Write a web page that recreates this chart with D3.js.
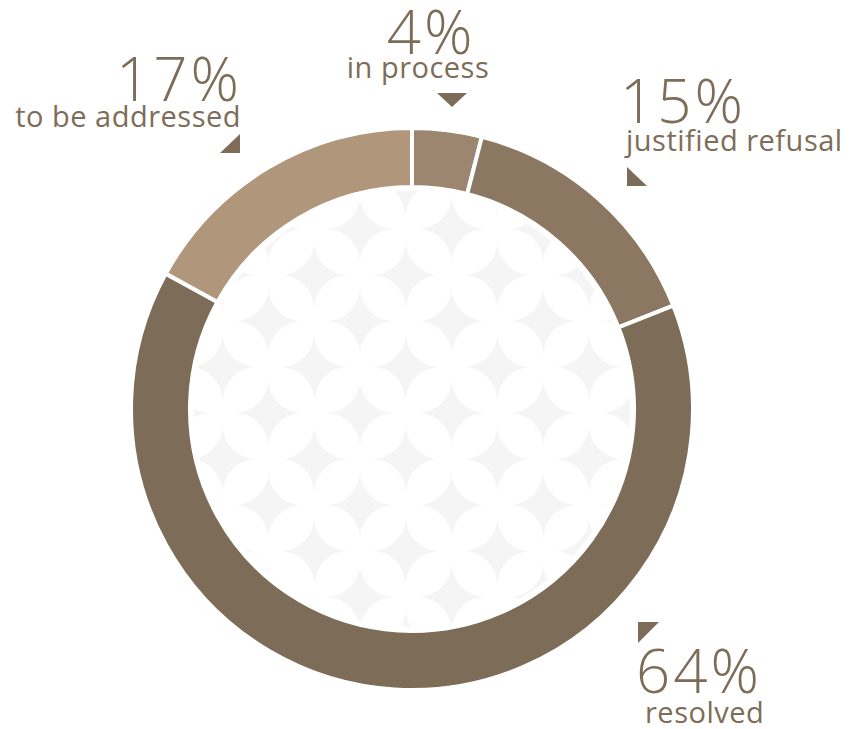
<!DOCTYPE html>
<html>
<head>
<meta charset="utf-8">
<script src="https://cdn.jsdelivr.net/npm/d3@7"></script>
<style>
  body { margin: 0; background: #fff; }
  svg { display: block; }
  .pct { font-family: 'Open Sans', sans-serif; font-weight: 300; font-size: 60px; letter-spacing: 3px; fill: #7d6d58; }
  .lbl { font-family: 'Open Sans', sans-serif; font-weight: 400; font-size: 29px; letter-spacing: 0.5px; fill: #7d6d58; }
</style>
</head>
<body>
<div id="chart"></div>
<script>
// data
let categories = ["in process", "justified refusal", "resolved", "to be addressed"];
let values = [4, 15, 64, 17];

// one colour per slice
let colors = ["#9c8670", "#8b7762", "#7d6d58", "#b0967b"];

// where each label sits: text anchor, x, baseline of the percent, baseline of the label, and the little pointer
let labelLayout = [
  {anchor: "middle", x: 431, xl: 418, yp: 54, yl: 78, tri: [[437, 93], [467, 93], [452, 107]]},
  {anchor: "start", x: 620, xl: 626, yp: 123, yl: 151, tri: [[627, 167], [627, 186], [647, 186]]},
  {anchor: "start", x: 636, xl: 645, yp: 693, yl: 723, tri: [[638, 622], [659, 622], [638, 643]]},
  {anchor: "end", x: 242, xl: 241, yp: 101, yl: 127, tri: [[240, 134], [240, 153], [220, 153]]}
];

var width = 853, height = 729;
var cx = 412, cy = 409, outerR = 281, innerR = 222;

var svg = d3.select("#chart")
    .append("svg")
    .attr("width", width)
    .attr("height", height);

// clip for the star pattern inside the ring
svg.append("defs").append("clipPath")
    .attr("id", "inner")
    .append("circle")
    .attr("cx", cx).attr("cy", cy).attr("r", innerR - 4);

// background pattern of 4-point stars
var starPath = "M0,-34 A34,34 0 0 1 -34,0 A34,34 0 0 1 0,34 A34,34 0 0 1 34,0 A34,34 0 0 1 0,-34 Z";
var stars = [];
for (var i = -7; i <= 7; i++) {
    for (var j = -7; j <= 7; j++) {
        if ((i + j) % 2 === 0) stars.push([360 + i * 45.8, 413 + j * 46]);
    }
}
svg.append("g")
    .attr("clip-path", "url(#inner)")
    .selectAll("path")
    .data(stars)
    .join("path")
    .attr("d", starPath)
    .attr("transform", d => `translate(${d[0]},${d[1]})`)
    .attr("fill", "#f5f5f5");

// donut
var pie = d3.pie().sort(null).value(d => d);
var arc = d3.arc().innerRadius(innerR).outerRadius(outerR);

svg.append("g")
    .attr("transform", `translate(${cx},${cy})`)
    .selectAll("path")
    .data(pie(values))
    .join("path")
    .attr("d", arc)
    .attr("fill", (d, i) => colors[i])
    .attr("stroke", "#fff")
    .attr("stroke-width", 4)
    .attr("stroke-linejoin", "miter");

// labels
var labels = svg.append("g")
    .selectAll("g")
    .data(categories)
    .join("g");

labels.append("text")
    .attr("class", "pct")
    .attr("text-anchor", (d, i) => labelLayout[i].anchor)
    .attr("x", (d, i) => labelLayout[i].x)
    .attr("y", (d, i) => labelLayout[i].yp)
    .text((d, i) => values[i] + "%");

labels.append("text")
    .attr("class", "lbl")
    .attr("text-anchor", (d, i) => labelLayout[i].anchor)
    .attr("x", (d, i) => labelLayout[i].xl)
    .attr("y", (d, i) => labelLayout[i].yl)
    .text(d => d);

labels.append("path")
    .attr("d", (d, i) => "M" + labelLayout[i].tri.join("L") + "Z")
    .attr("fill", "#7d6d58");
</script>
</body>
</html>
